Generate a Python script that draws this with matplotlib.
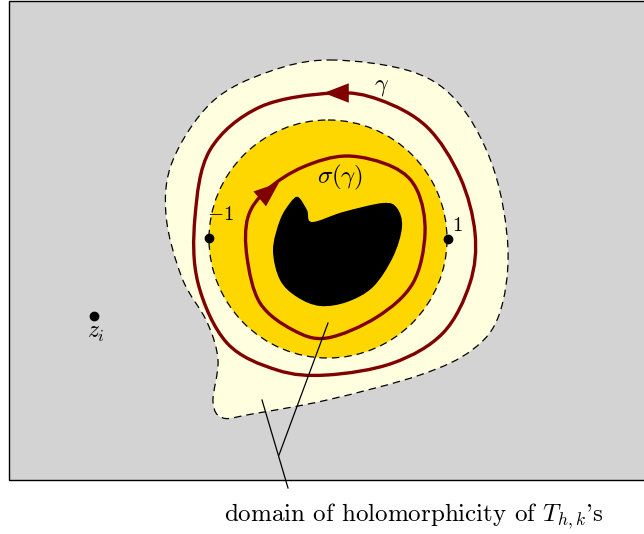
import numpy as np
import matplotlib
matplotlib.use("Agg")
import matplotlib.pyplot as plt
from matplotlib.path import Path
from matplotlib.patches import PathPatch, Rectangle, Circle

plt.rcParams['mathtext.fontset'] = 'cm'

# shapes, in picture pixels (x right, y down)
outer_x = [330, 413, 460, 494, 508, 499, 472, 420, 327, 252, 223, 213, 218, 207, 182, 166, 173, 212, 268]
outer_y = [60, 72, 105, 170, 250, 315, 350, 375, 400, 414, 418, 402, 360, 322, 278, 215, 160, 102, 72]

disk_center = (328, 239)
disk_radius = 119

blob_x = [298, 307, 312, 343, 383, 397, 402, 393, 373, 347, 320, 297, 280, 273, 280, 290]
blob_y = [197, 210, 222, 212, 203, 208, 227, 257, 287, 302, 306, 297, 280, 250, 220, 203]

gamma_x = [333, 260, 210, 195, 198, 227, 277, 327, 393, 443, 470, 475, 460, 427, 380]
gamma_y = [93, 107, 150, 217, 283, 343, 370, 375, 363, 333, 283, 233, 177, 127, 100]

sigma_x = [267, 303, 347, 393, 417, 425, 413, 377, 327, 293, 260, 247, 248]
sigma_y = [190, 167, 156, 167, 190, 233, 283, 317, 338, 330, 303, 257, 217]

marked_points = {'-1': (209, 238), '1': (448, 239), 'z_i': (94, 316)}

leader_a = ([262, 288], [400, 488])
leader_b = ([328, 279], [323, 455])


def closed_path(xs, ys, tension=1.0):
    # Catmull-Rom through the given points, drawn as cubic Bezier segments
    p = np.column_stack([xs, ys]).astype(float)
    n = len(p)
    verts = [p[0]]
    codes = [Path.MOVETO]
    for i in range(n):
        p0, p1, p2, p3 = p[i - 1], p[i], p[(i + 1) % n], p[(i + 2) % n]
        c1 = p1 + (p2 - p0) / 6 * tension
        c2 = p2 - (p3 - p1) / 6 * tension
        verts += [c1, c2, p2]
        codes += [Path.CURVE4] * 3
    return Path(verts, codes)


fig = plt.figure(figsize=(6.44, 5.34), dpi=100)
ax = fig.add_axes([0, 0, 1, 1])
ax.set_xlim(0, 644)
ax.set_ylim(534, 0)
ax.axis('off')

ax.add_patch(Rectangle((9, 1), 660, 479, facecolor='#d3d3d3', edgecolor='black', lw=1))

dash = dict(edgecolor='black', lw=0.9, linestyle=(0, (6, 4)))
ax.add_patch(PathPatch(closed_path(outer_x, outer_y), facecolor='#ffffe0', **dash))
ax.add_patch(Circle(disk_center, disk_radius, facecolor='#ffd700', **dash))
ax.add_patch(PathPatch(closed_path(blob_x, blob_y), facecolor='black', edgecolor='none'))

red = '#800000'
ax.add_patch(PathPatch(closed_path(gamma_x, gamma_y), facecolor='none', edgecolor=red, lw=2.4))
ax.add_patch(PathPatch(closed_path(sigma_x, sigma_y), facecolor='none', edgecolor=red, lw=2.4))

arrow = dict(arrowstyle='-|>,head_length=0.9,head_width=0.35', color=red, lw=0, mutation_scale=20)
ax.annotate('', xy=(321, 93), xytext=(345, 93), arrowprops=arrow)
ax.annotate('', xy=(281, 181), xytext=(262, 197), arrowprops=arrow)

for name, (px, py) in marked_points.items():
    ax.plot(px, py, 'o', color='black', ms=6)

ax.text(220, 214, r'$-1$', fontsize=15, ha='center', va='center')
ax.text(457, 225, r'$1$', fontsize=15, ha='center', va='center')
ax.text(96, 332, r'$z_i$', fontsize=17, ha='center', va='center')
ax.text(381, 86, r'$\gamma$', fontsize=17, ha='center', va='center')
ax.text(340, 177, r'$\sigma(\gamma)$', fontsize=18, ha='center', va='center')

ax.plot(*leader_a, color='black', lw=0.9)
ax.plot(*leader_b, color='black', lw=0.9)

ax.text(414, 516, "domain of holomorphicity of $T_{h,k}$'s",
        family='cmr10', fontsize=18, ha='center', va='center')

fig.savefig('out.png', dpi=100)
